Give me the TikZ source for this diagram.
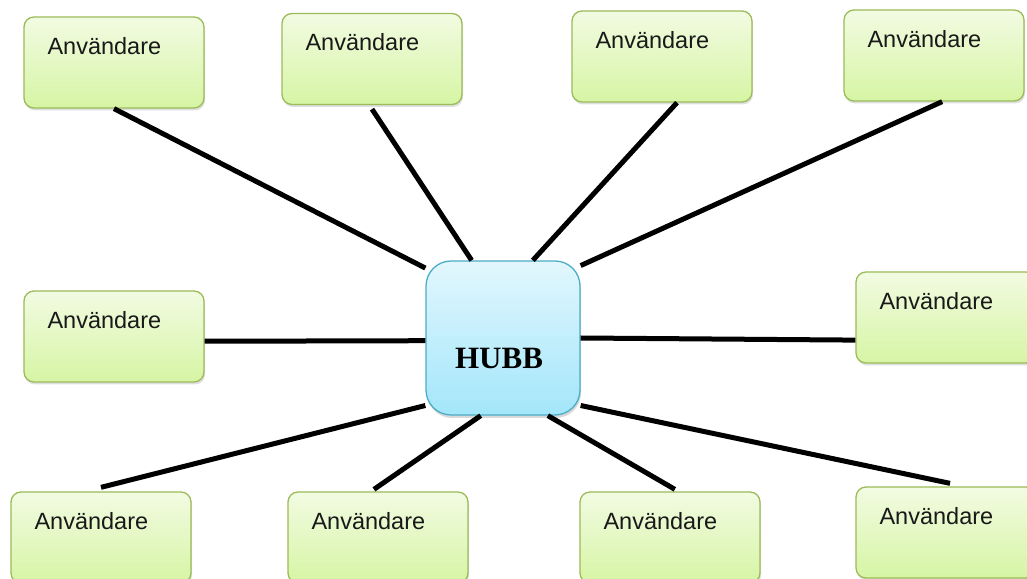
\documentclass[tikz,border=0pt]{standalone}
\usepackage{fontspec}
\setmainfont{Liberation Sans}
\newfontfamily\hubfont{Liberation Serif}
\usetikzlibrary{shadows}
\definecolor{ubord}{HTML}{9BBB59}
\definecolor{utop}{HTML}{F2FBE2}
\definecolor{ubot}{HTML}{D6F5A4}
\definecolor{hbord}{HTML}{4BACC6}
\definecolor{htop}{HTML}{E2F7FD}
\definecolor{hbot}{HTML}{A3E6FA}
\tikzset{
  userbox/.style={draw=ubord, line width=1.3pt, rounded corners=10pt,
    top color=utop, bottom color=ubot, minimum width=180pt, minimum height=91pt,
    inner sep=0pt, drop shadow={opacity=0.25, shadow xshift=1pt, shadow yshift=-2.5pt}},
  utext/.style={anchor=base west, inner sep=0pt, font=\fontsize{23.5}{28}\selectfont, text=black!90},
  hubbox/.style={draw=hbord, line width=1.3pt, rounded corners=25pt,
    top color=htop, bottom color=hbot, minimum width=154pt, minimum height=154pt,
    inner sep=0pt, drop shadow={opacity=0.3, shadow xshift=1pt, shadow yshift=-3pt}},
  conn/.style={line width=5pt, black}
}
\begin{document}
\begin{tikzpicture}[x=1pt,y=1pt]
\useasboundingbox (0,0) rectangle (1027,578);
\clip (0,0) rectangle (1027,578);
\node[userbox] (u1) at (114,515.5) {};
\node[userbox] (u2) at (372,519) {};
\node[userbox] (u3) at (662,521.5) {};
\node[userbox] (u4) at (934,522.5) {};
\node[userbox] (u5) at (114,241.5) {};
\node[userbox] (u6) at (946,260.5) {};
\node[userbox] (u7) at (101,40.5) {};
\node[userbox] (u8) at (378,40.5) {};
\node[userbox] (u9) at (670,40.5) {};
\node[userbox] (u10) at (946,45.5) {};
\foreach \i in {1,...,10}{
  \node[utext] (t\i) at ([shift={(24,-38)}]u\i.north west) {Användare};
}
\node[hubbox] (hub) at (503,240) {};
\node[font=\hubfont\bfseries\fontsize{31}{36}\selectfont, inner sep=0pt] (hl) at (499,220) {HUBB};
\draw[conn] (u1.south) -- (hub.138);
\draw[conn] ([yshift=-4pt]u2.south) -- (hub.112);
\draw[conn] (u3.288) -- (hub.69);
\draw[conn] (u4.280) -- (hub.43);
\draw[conn] (u5.-3) -- (hub.182);
\draw[conn] (u6.194) -- (hub.0);
\draw[conn] ([yshift=4pt]u7.north) -- (hub.221);
\draw[conn] ([yshift=2pt]u8.95) -- (hub.254);
\draw[conn] ([yshift=2pt]u9.84) -- (hub.300);
\draw[conn] ([yshift=3pt]u10.85) -- (hub.319);
\end{tikzpicture}
\end{document}
